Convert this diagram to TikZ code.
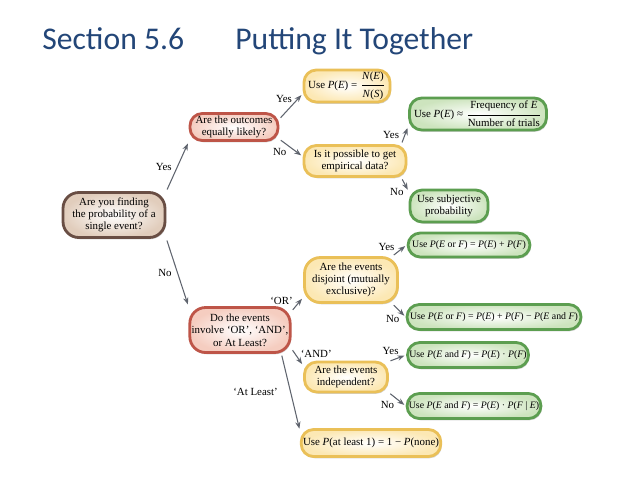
\documentclass[tikz,border=0pt]{standalone}
\usepackage{amsmath,amssymb}
\usepackage{fontspec}
\setmainfont{Liberation Serif}
\newfontfamily\titlefont{Carlito}
\usetikzlibrary{shadows,arrows.meta}
\definecolor{titleblue}{RGB}{35,70,120}
\definecolor{brownedge}{RGB}{105,78,68}
\definecolor{brownfill}{RGB}{225,205,188}
\definecolor{rededge}{RGB}{190,85,72}
\definecolor{redfill}{RGB}{245,205,192}
\definecolor{yellowedge}{RGB}{234,192,88}
\definecolor{yellowfill}{RGB}{252,232,180}
\definecolor{greenedge}{RGB}{92,158,80}
\definecolor{greenfill}{RGB}{205,228,190}
\definecolor{arrowgray}{RGB}{95,100,110}

\newcommand{\prob}[1]{\textit{P}(#1)}
\newcommand{\ev}[1]{\textit{#1}}

\tikzset{
  box/.style={rounded corners=7pt, line width=1.6pt, align=center, inner sep=1pt,
    font=\fontsize{6.2}{7}\selectfont, shading=radial, inner color=white,
    drop shadow={shadow xshift=0.6pt, shadow yshift=-1pt, opacity=0.35}},
  brownbox/.style={box, draw=brownedge, outer color=brownfill},
  redbox/.style={box, draw=rededge, outer color=redfill},
  yellowbox/.style={box, draw=yellowedge, outer color=yellowfill},
  greenbox/.style={box, draw=greenedge, outer color=greenfill},
  rulebox/.style={greenbox, font=\fontsize{5.6}{6.5}\selectfont},
  arr/.style={-{Stealth[length=4pt,width=3pt]}, arrowgray, line width=0.6pt,
    shorten <=1pt, shorten >=1pt},
  lab/.style={font=\fontsize{6.2}{7}\selectfont, inner sep=1pt, text=black},
  heading/.style={font=\titlefont\fontsize{18}{21}\selectfont, text=titleblue, anchor=base west, inner sep=0pt}
}

\begin{document}
\begin{tikzpicture}[x=0.02cm, y=-0.02cm]
\fill[white] (0,0) rectangle (638,478);
\useasboundingbox (0,0) rectangle (638,478);

\node[heading] (sec) at (42,49) {Section 5.6};
\node[heading] (put) at (235,49) {Putting It Together};

\node[brownbox, minimum width=2.04cm, minimum height=0.9cm, rounded corners=9pt] (single) at (114,215) {Are you finding\\the probability of a\\single event?};
\node[redbox, minimum width=1.76cm, minimum height=0.54cm] (equally) at (234,127) {Are the outcomes\\equally likely?};
\node[yellowbox, minimum width=1.72cm, minimum height=0.64cm] (classic) at (347,86) {Use \prob{\ev{E}} = $\dfrac{\text{\ev{N}(\ev{E})}}{\text{\ev{N}(\ev{S})}}$};
\node[yellowbox, minimum width=2.04cm, minimum height=0.62cm] (empirical) at (355,161) {Is it possible to get\\empirical data?};
\node[greenbox, minimum width=2.74cm, minimum height=0.64cm] (freq) at (478,114) {Use \prob{\ev{E}} ≈ $\dfrac{\text{Frequency of \ev{E}}}{\text{Number of trials}}$};
\node[greenbox, minimum width=1.56cm, minimum height=0.64cm] (subjective) at (449,206) {Use subjective\\probability};

\node[redbox, minimum width=2.0cm, minimum height=0.9cm, rounded corners=9pt] (involve) at (240,330) {Do the events\\involve `OR', `AND',\\or At Least?};
\node[yellowbox, minimum width=1.86cm, minimum height=0.9cm, rounded corners=9pt] (disjoint) at (351,280) {Are the events\\disjoint (mutually\\exclusive)?};
\node[rulebox, minimum width=2.44cm, minimum height=0.48cm] (orsum) at (469,245) {Use \prob{\ev{E} or \ev{F}} = \prob{\ev{E}} + \prob{\ev{F}}};
\node[rulebox, minimum width=3.48cm, minimum height=0.5cm] (orfull) at (494,317) {Use \prob{\ev{E} or \ev{F}} = \prob{\ev{E}} + \prob{\ev{F}} − \prob{\ev{E} and \ev{F}}};
\node[yellowbox, minimum width=1.66cm, minimum height=0.6cm] (indep) at (346,377) {Are the events\\independent?};
\node[rulebox, minimum width=2.4cm, minimum height=0.5cm] (andind) at (468,355) {Use \prob{\ev{E} and \ev{F}} = \prob{\ev{E}} · \prob{\ev{F}}};
\node[rulebox, minimum width=2.64cm, minimum height=0.5cm] (andcond) at (474,406) {Use \prob{\ev{E} and \ev{F}} = \prob{\ev{E}} · \prob{\ev{F} | \ev{E}}};
\node[yellowbox, minimum width=2.74cm, minimum height=0.54cm] (atleast) at (371,443) {Use \prob{at least 1} = 1 − \prob{none}};

\draw[arr] (single.north east) -- node[lab, left=2pt] {Yes} (equally.south west);
\draw[arr] (equally.10) -- node[lab, pos=0.2, above=5pt] {Yes} (classic.190);
\draw[arr] (equally.-15) -- node[lab, pos=0.4, below left] {No} (empirical.175);
\draw[arr] (empirical.20) -- node[lab, left=2pt] {Yes} (freq.190);
\draw[arr] (empirical.-20) -- node[lab, pos=0.6, below left] {No} (subjective.160);
\draw[arr] (single.south east) -- node[lab, left=2pt] {No} (involve.north west);
\draw[arr] (involve.20) -- node[lab, pos=0.3, above left] {`OR'} (disjoint.200);
\draw[arr] (disjoint.30) -- node[lab, pos=0.3, above left] {Yes} (orsum.west);
\draw[arr] (disjoint.-30) -- node[lab, pos=0.7, below left] {No} (orfull.west);
\draw[arr] (involve.-20) -- node[lab, pos=0.3, right=2pt] {`AND'} (indep.165);
\draw[arr] (indep.20) -- node[lab, pos=0.1, above=2pt] {Yes} (andind.west);
\draw[arr] (indep.-20) -- node[lab, pos=0.45, below left] {No} (andcond.west);
\draw[arr] (involve.-30) -- node[lab, left=6pt] {`At Least'} (atleast.170);
\end{tikzpicture}
\end{document}
